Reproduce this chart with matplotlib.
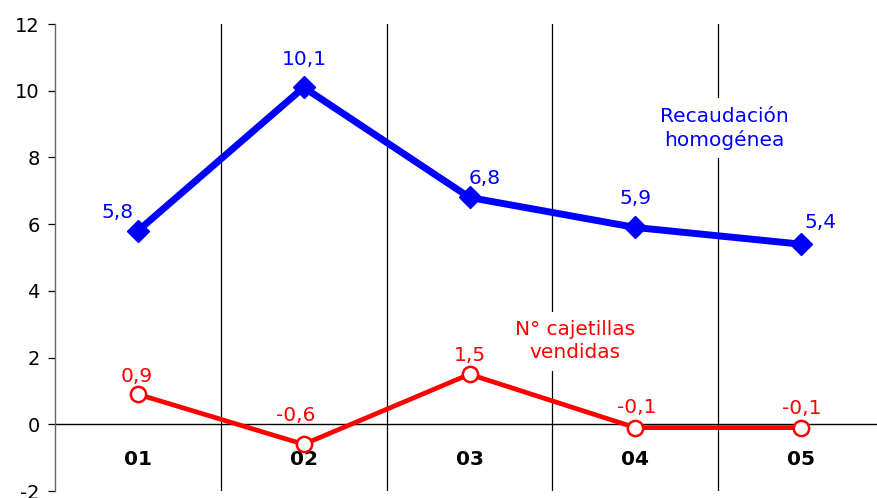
import matplotlib
matplotlib.use("Agg")
import matplotlib.pyplot as plt

categories = ["01", "02", "03", "04", "05"]
recaudacion = [5.8, 10.1, 6.8, 5.9, 5.4]
cajetillas = [0.9, -0.6, 1.5, -0.1, -0.1]
rec_labels = ["5,8", "10,1", "6,8", "5,9", "5,4"]
caj_labels = ["0,9", "-0,6", "1,5", "-0,1", "-0,1"]
yticks = [-2, 0, 2, 4, 6, 8, 10, 12]

BLUE = "#0000FF"
RED = "#FF0000"
W, H = 877, 498
fig = plt.figure(figsize=(W / 100, H / 100), dpi=100)
plt.rcParams['font.family'] = ['DejaVu Sans']
ax = fig.add_axes([55 / W, 1 - 491 / H, (884 - 55) / W, (491 - 24) / H])

x = list(range(1, len(categories) + 1))
ax.set_xlim(0.5, len(categories) + 0.5)
ax.set_ylim(-2, 12)

# vertical separators
for b in [i + 0.5 for i in x[:-1]]:
    ax.axvline(b, color="black", lw=0.9, zorder=1)
ax.axhline(0, color="black", lw=1.0, zorder=1)

ax.plot(x, recaudacion, color=BLUE, lw=5.0, marker="D", markersize=11,
        markerfacecolor=BLUE, markeredgecolor=BLUE, zorder=4,
        solid_joinstyle="miter")
ax.plot(x, cajetillas, color=RED, lw=3.4, marker="o", markersize=11,
        markerfacecolor="white", markeredgecolor=RED, markeredgewidth=1.8,
        zorder=4)

k = 0.72
FS = 14.5
rec_off = [(-20, 18), (1, 28), (15, 19), (0, 29), (19, 22)]
caj_off = [(-1, 18), (-8, 29), (0, 19), (1, 20), (1, 19)]
for xi, v, lab, (dx, dy) in zip(x, recaudacion, rec_labels, rec_off):
    ax.annotate(lab, (xi, v), xytext=(dx * k, dy * k), textcoords="offset points",
                ha="center", va="center", color=BLUE, fontsize=FS, zorder=5)
for xi, v, lab, (dx, dy) in zip(x, cajetillas, caj_labels, caj_off):
    ax.annotate(lab, (xi, v), xytext=(dx * k, dy * k), textcoords="offset points",
                ha="center", va="center", color=RED, fontsize=FS, zorder=5)

for xi, c in zip(x, categories):
    ax.text(xi, -1.05, c, ha="center", va="center", fontsize=14.5,
            fontweight="bold", color="black")

ax.text(4.535, 8.87, "Recaudación\nhomogénea", ha="center", va="center",
        color=BLUE, fontsize=FS, linespacing=1.3, zorder=3,
        bbox=dict(boxstyle="square,pad=0.4", fc="white", ec="none"))
ax.text(3.636, 2.49, "N° cajetillas\nvendidas", ha="center", va="center",
        color=RED, fontsize=FS, linespacing=1.3, zorder=3,
        bbox=dict(boxstyle="square,pad=0.4", fc="white", ec="none"))

ax.set_xticks([])
ax.set_yticks(yticks)
ax.set_yticklabels([str(t) for t in yticks], fontsize=14)
ax.tick_params(axis="y", length=5, width=0.9, pad=6, colors="black")
for s in ["top", "right", "bottom"]:
    ax.spines[s].set_visible(False)
ax.spines["left"].set_color("#666666")
ax.spines["left"].set_linewidth(1.0)

fig.savefig("out.png", dpi=100)
